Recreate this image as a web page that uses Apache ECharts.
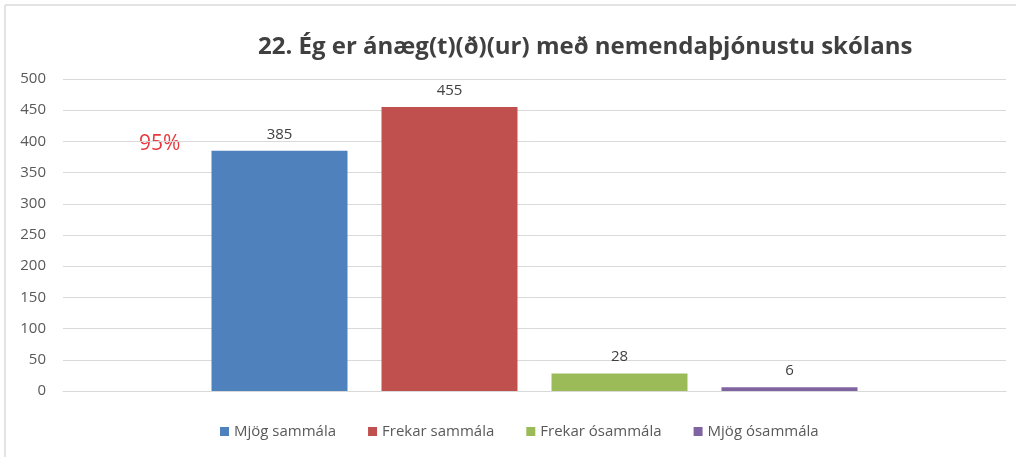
<!DOCTYPE html>
<html>
<head>
<meta charset="utf-8">
<script src="https://cdn.jsdelivr.net/npm/echarts@6/dist/echarts.min.js"></script>
<style>
  html, body { margin: 0; padding: 0; background: #fff; }
  #chart { width: 1016px; height: 457px; }
</style>
</head>
<body>
<div id="chart"></div>
<script>
// Survey question 22: satisfaction with student services
const titleText = '22. Ég er ánæg(t)(ð)(ur) með nemendaþjónustu skólans';
const seriesNames = ['Mjög sammála', 'Frekar sammála', 'Frekar ósammála', 'Mjög ósammála'];
const seriesValues = [385, 455, 28, 6];
const seriesColors = ['#4f81bd', '#c0504d', '#9bbb59', '#8064a2'];
const shareLabel = '95%';
const yTicks = { min: 0, max: 500, interval: 50 };

const FONT = '"Open Sans", Lato, sans-serif';

const chart = echarts.init(document.getElementById('chart'));

const series = seriesNames.map((name, i) => ({
  name: name,
  type: 'bar',
  data: [seriesValues[i]],
  barWidth: 136,
  barGap: '25%',
  itemStyle: { color: seriesColors[i] },
  label: {
    show: true,
    position: 'top',
    distance: 9,
    color: '#404040',
    fontFamily: FONT,
    fontSize: 15
  }
}));

chart.setOption({
  animation: false,
  backgroundColor: '#fff',
  title: {
    text: titleText,
    left: 253,
    top: 30,
    textStyle: {
      fontFamily: FONT,
      fontWeight: 'bold',
      fontSize: 24,
      color: '#404040'
    }
  },
  legend: {
    top: 419,
    left: 215,
    icon: 'rect',
    itemWidth: 9,
    itemHeight: 9,
    itemGap: 32,
    textStyle: { fontFamily: FONT, fontSize: 15, color: '#595959' },
    data: seriesNames
  },
  grid: { left: 63, right: 10, top: 79, bottom: 66, containLabel: false },
  xAxis: {
    type: 'category',
    data: [''],
    axisLine: { show: true, lineStyle: { color: '#d9d9d9' } },
    axisTick: { show: false },
    axisLabel: { show: false }
  },
  yAxis: {
    type: 'value',
    min: yTicks.min,
    max: yTicks.max,
    interval: yTicks.interval,
    axisLine: { show: false },
    axisTick: { show: false },
    axisLabel: { margin: 17, color: '#595959', fontFamily: FONT, fontSize: 15 },
    splitLine: { lineStyle: { color: '#d9d9d9', width: 1 } }
  },
  graphic: [
    { type: 'line', shape: { x1: 5, y1: 5, x2: 1016, y2: 5 }, style: { stroke: '#e3e3e3', lineWidth: 2 } },
    { type: 'line', shape: { x1: 5, y1: 5, x2: 5, y2: 457 }, style: { stroke: '#e3e3e3', lineWidth: 2 } },
    {
      type: 'text',
      left: 139,
      top: 134,
      style: {
        text: shareLabel,
        fill: '#e8383d',
        font: '21px ' + FONT
      }
    }
  ],
  series: series
});
</script>
</body>
</html>
